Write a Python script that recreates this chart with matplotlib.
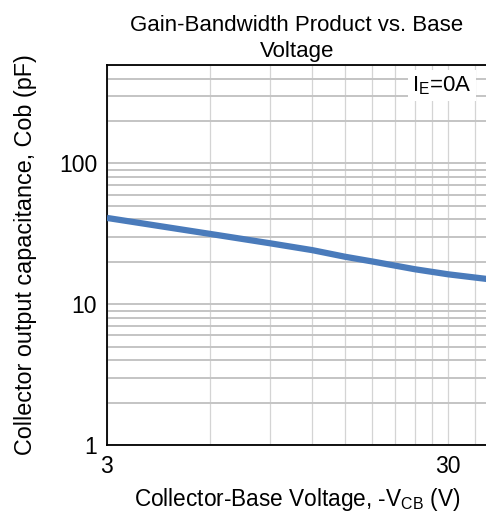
import numpy as np
import matplotlib
matplotlib.use('Agg')
import matplotlib.pyplot as plt
from matplotlib.ticker import FixedLocator, NullFormatter, FixedFormatter

plt.rcParams['font.family'] = ['Liberation Sans', 'DejaVu Sans']
plt.rcParams['mathtext.fontset'] = 'custom'
plt.rcParams['mathtext.rm'] = 'Liberation Sans'
plt.rcParams['mathtext.it'] = 'Liberation Sans'

# datos
vcb = [3, 6, 9, 12, 15, 18, 24, 30, 39]
cob = [41.0, 31.6, 27.1, 24.2, 21.7, 20.1, 17.7, 16.3, 15.1]

x_major = [3, 30]
x_minor = [6, 9, 12, 15, 18, 21, 24, 27, 36]
y_major = [1, 10, 100]
y_minor = [k * d for d in (1, 10, 100) for k in range(2, 10)]

fig = plt.figure(figsize=(4.86, 5.12), dpi=100)
ax = fig.add_axes([0.220, 0.131, 0.782, 0.742])

ax.set_xscale('log')
ax.set_yscale('log')
ax.set_xlim(3, 39)
ax.set_ylim(1, 500)

ax.xaxis.set_major_locator(FixedLocator(x_major))
ax.xaxis.set_major_formatter(FixedFormatter([str(v) for v in x_major]))
ax.xaxis.set_minor_locator(FixedLocator(x_minor))
ax.xaxis.set_minor_formatter(NullFormatter())
ax.yaxis.set_major_locator(FixedLocator(y_major))
ax.yaxis.set_major_formatter(FixedFormatter([str(v) for v in y_major]))
ax.yaxis.set_minor_locator(FixedLocator(y_minor))
ax.yaxis.set_minor_formatter(NullFormatter())

# rejilla
ax.grid(True, axis='y', which='both', color='#c4c4c4', lw=1.4)
ax.grid(True, axis='x', which='both', color='#d4d4d4', lw=0.9)
ax.set_axisbelow(True)

ax.tick_params(which='both', length=0, labelsize=16.5, pad=7)

ax.plot(vcb, cob, color='#4a7bbb', lw=4.5, solid_capstyle='butt', zorder=3)

for s in ['left', 'bottom', 'top']:
    ax.spines[s].set_color('black')
    ax.spines[s].set_linewidth(1.3)
ax.spines['right'].set_visible(False)

ax.text(0.96, 0.975, r'I$_\mathregular{E}$=0A', transform=ax.transAxes,
        ha='right', va='top', fontsize=16,
        bbox=dict(facecolor='white', edgecolor='none', pad=3), zorder=4)

ax.set_title('Gain-Bandwidth Product vs. Base\nVoltage', fontsize=16,
             linespacing=1.3, pad=6)
ax.set_xlabel(r'Collector-Base Voltage, -V$_\mathregular{CB}$ (V)', fontsize=16.3,
              labelpad=6)
ax.set_ylabel('Collector output capacitance, Cob (pF)', fontsize=16.8,
              labelpad=16)

plt.savefig('out.png', dpi=100)
